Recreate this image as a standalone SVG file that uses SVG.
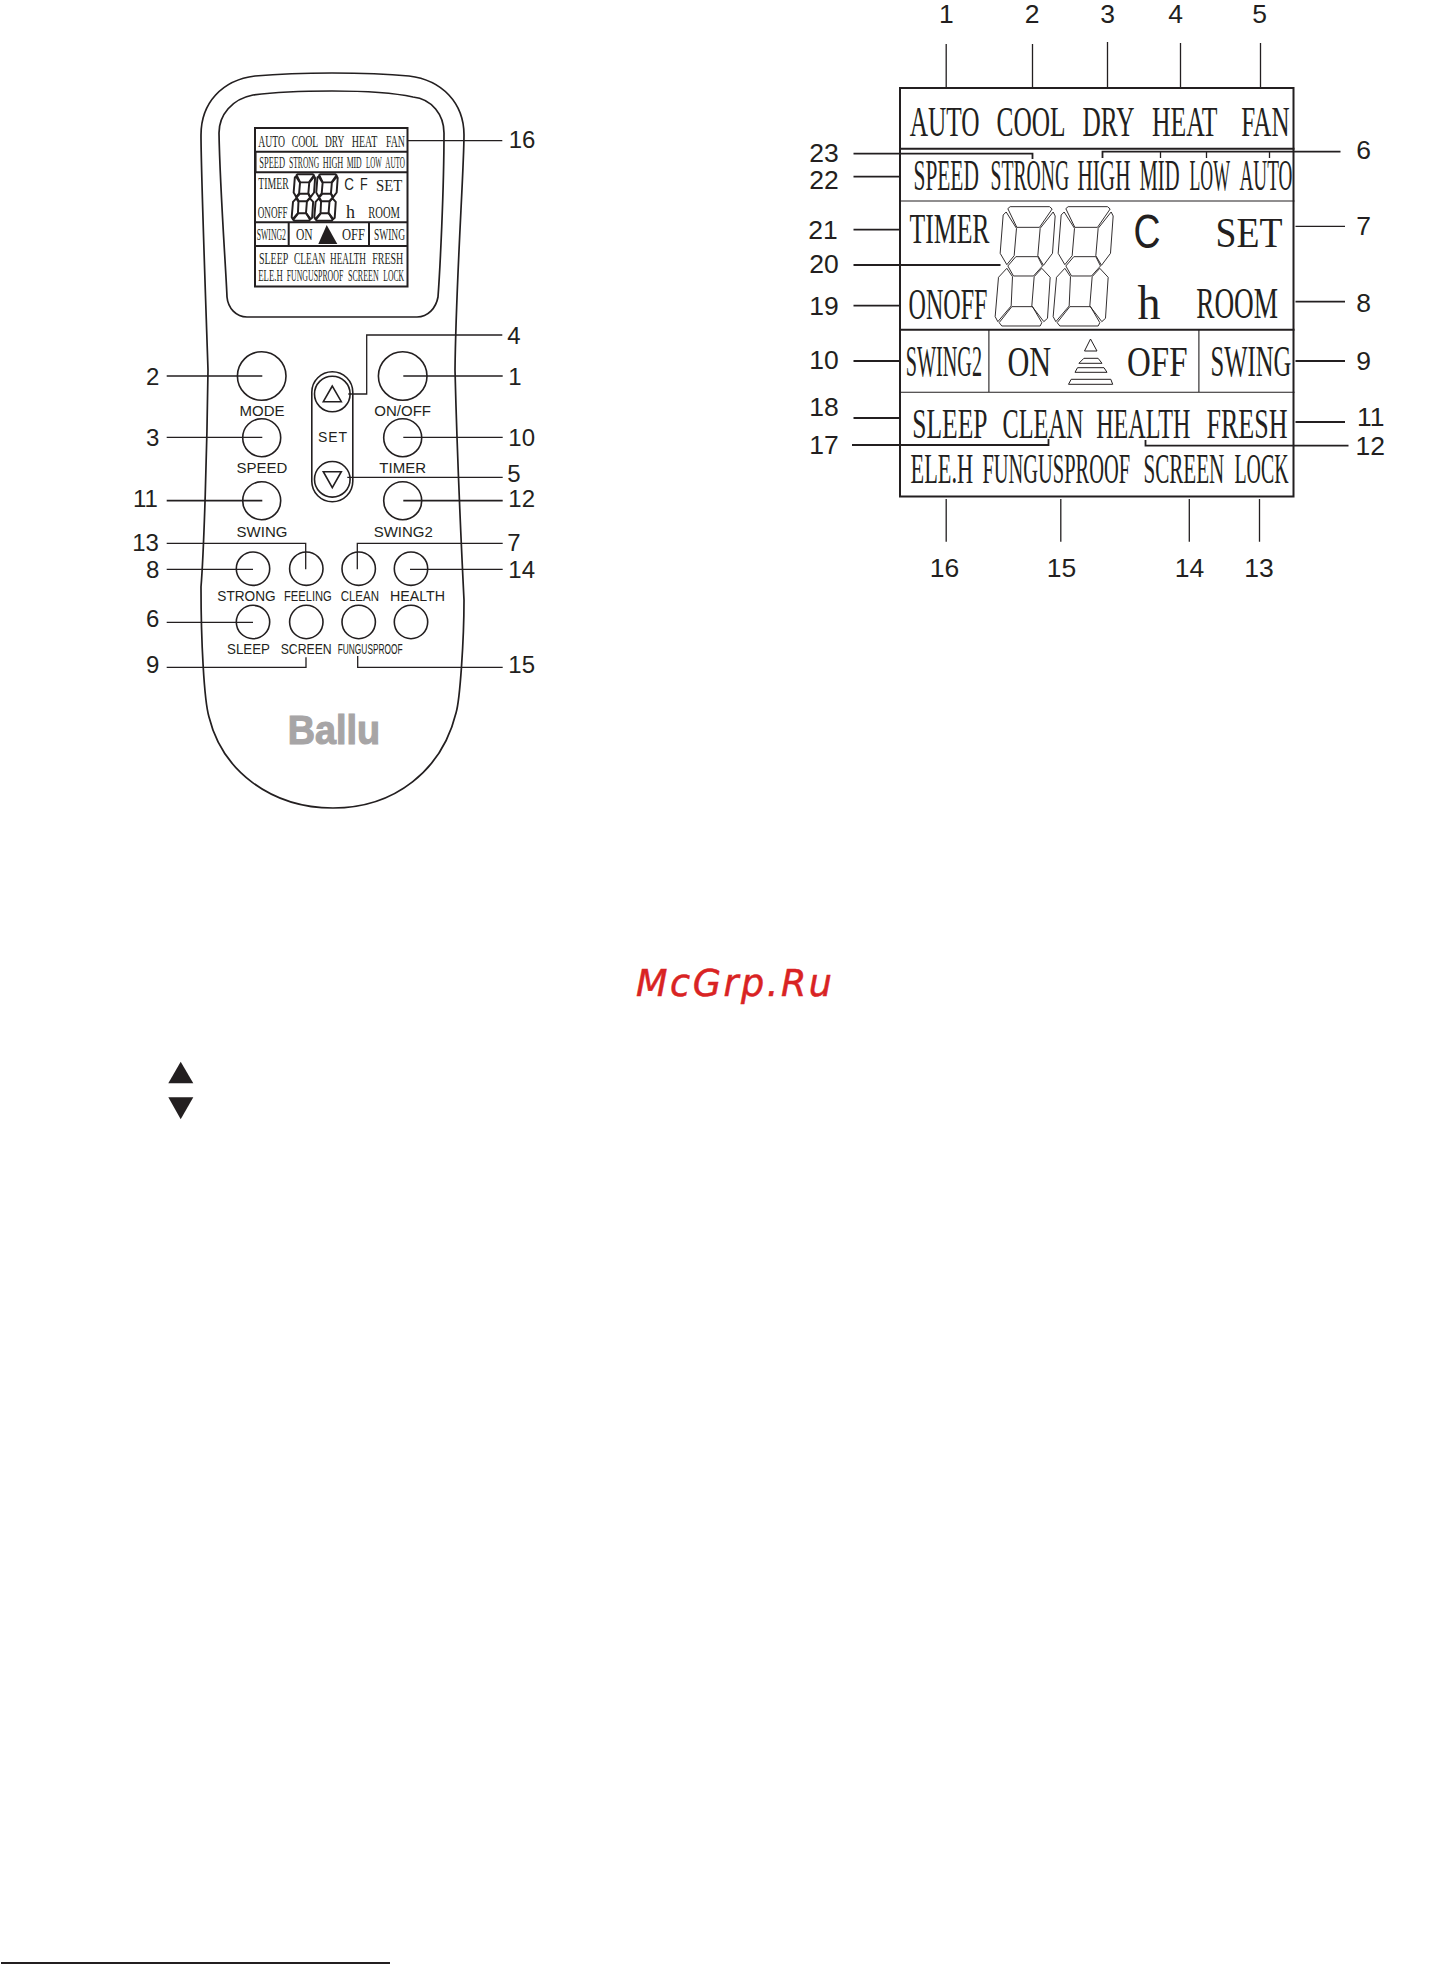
<svg xmlns="http://www.w3.org/2000/svg" xmlns:xlink="http://www.w3.org/1999/xlink" width="1456" height="1964" viewBox="0 0 1456 1964">
<style>
text{fill:#231f20}
.n,.m,.s{font-family:"Liberation Sans",Arial,sans-serif}
.n{font-size:24px;text-anchor:middle}
.m{font-size:26.5px;text-anchor:middle}
.s{font-size:15px}
.c{text-anchor:middle}
.t,.u{font-family:"Liberation Serif","Times New Roman",serif}
.t{font-size:42px}
.u{font-size:16px}
.l{fill:none;stroke:#231f20;stroke-width:1.3}
.b{fill:none;stroke:#231f20;stroke-width:1.9}
.f{fill:none;stroke:#231f20;stroke-width:1.7}
.k{fill:#fff;stroke:#231f20;stroke-width:1.6}
.d{fill:#231f20}
.seg polygon{fill:none;stroke:#231f20;stroke-linejoin:round}
</style>
<defs>
<g id="digit" class="seg">
<polygon points="88,56 95,50 213,50 221,57 183,112 115,112"/>
<polygon points="83,66 74,75 65,190 85,224 107,197 114,115"/>
<polygon points="224,66 230,78 222,190 195,226 178,197 185,115"/>
<polygon points="88,228 112,200 178,200 192,228 165,258 105,258"/>
<polygon points="85,235 60,262 50,380 58,395 98,348 102,260"/>
<polygon points="190,235 215,262 207,385 196,395 160,348 167,260"/>
<polygon points="62,398 100,350 162,350 190,398 185,408 70,408"/>
</g>
</defs>
<rect width="1456" height="1964" fill="#fff"/>

<g id="remote">
<path class="f" d="M332,73C300,73 278,74 255,76C222,80 201,103 201,135C201,170 205,280 208,370C207,450 204,550 201,587C201,640 204,700 209,717C222,770 270,808 333,808C395,808 442,770 456,713C460,700 464,640 464,600C462,560 457,450 455,370C456,280 464,170 464,135C464,103 442,80 409,76C388,74 360,73 332,73Z"/>
<path class="f" d="M332,91C300,91 275,92 253,95C232,99 219,115 219,133C220,190 226,270 227,297C228,308 236,317 247,317L417,317C428,317 436,308 438,297C440,270 444,190 444,133C444,115 432,99 413,97C390,92 360,91 332,91Z"/>
</g>

<g id="remote-lcd">
<rect x="255" y="128" width="152.5" height="158.5" fill="#fff" stroke="#231f20" stroke-width="2"/>
<path class="b" style="stroke-width:2" d="M254,151.7H408M254,172.3H408M254,222.3H408M254,246H408M288.7,222V246M369,222V246"/>
<path class="b" d="M255.6,152V172"/>
<g class="u">
<text x="258.3" y="147.3" textLength="26.7" lengthAdjust="spacingAndGlyphs">AUTO</text>
<text x="291.7" y="147.3" textLength="26.6" lengthAdjust="spacingAndGlyphs">COOL</text>
<text x="325" y="147.3" textLength="19.3" lengthAdjust="spacingAndGlyphs">DRY</text>
<text x="351.7" y="147.3" textLength="25.6" lengthAdjust="spacingAndGlyphs">HEAT</text>
<text x="386" y="147.3" textLength="19" lengthAdjust="spacingAndGlyphs">FAN</text>
<text x="259.3" y="168" textLength="25.7" lengthAdjust="spacingAndGlyphs">SPEED</text>
<text x="289" y="168" textLength="30.3" lengthAdjust="spacingAndGlyphs">STRONG</text>
<text x="322.7" y="168" textLength="20.6" lengthAdjust="spacingAndGlyphs">HIGH</text>
<text x="346.7" y="168" textLength="15" lengthAdjust="spacingAndGlyphs">MID</text>
<text x="366" y="168" textLength="15.7" lengthAdjust="spacingAndGlyphs">LOW</text>
<text x="385.3" y="168" textLength="19.7" lengthAdjust="spacingAndGlyphs">AUTO</text>
<text x="258.3" y="188.7" textLength="30.4" lengthAdjust="spacingAndGlyphs">TIMER</text>
<text x="376" y="190.7" textLength="26.3" lengthAdjust="spacingAndGlyphs">SET</text>
<text x="257.7" y="218.3" textLength="30" lengthAdjust="spacingAndGlyphs">ONOFF</text>
<text x="346" y="217.7" style="font-size:18px">h</text>
<text x="368.3" y="217.7" textLength="31.7" lengthAdjust="spacingAndGlyphs">ROOM</text>
<text x="256.7" y="240" textLength="29.3" lengthAdjust="spacingAndGlyphs">SWING2</text>
<text x="296" y="240" textLength="16.7" lengthAdjust="spacingAndGlyphs">ON</text>
<text x="342" y="240" textLength="23" lengthAdjust="spacingAndGlyphs">OFF</text>
<text x="374" y="240" textLength="31" lengthAdjust="spacingAndGlyphs">SWING</text>
<text x="259" y="264" textLength="29.3" lengthAdjust="spacingAndGlyphs">SLEEP</text>
<text x="294" y="264" textLength="31.3" lengthAdjust="spacingAndGlyphs">CLEAN</text>
<text x="330" y="264" textLength="36" lengthAdjust="spacingAndGlyphs">HEALTH</text>
<text x="372.3" y="264" textLength="31" lengthAdjust="spacingAndGlyphs">FRESH</text>
<text x="258.3" y="281.3" textLength="24.4" lengthAdjust="spacingAndGlyphs">ELE.H</text>
<text x="286.7" y="281.3" textLength="56.6" lengthAdjust="spacingAndGlyphs">FUNGUSPROOF</text>
<text x="348" y="281.3" textLength="30.7" lengthAdjust="spacingAndGlyphs">SCREEN</text>
<text x="383.3" y="281.3" textLength="20.7" lengthAdjust="spacingAndGlyphs">LOCK</text>
</g>
<text class="s" x="344.3" y="190" style="font-size:16.5px" textLength="9.7" lengthAdjust="spacingAndGlyphs">C</text>
<text class="s" x="360" y="190" style="font-size:16.5px" textLength="7.7" lengthAdjust="spacingAndGlyphs">F</text>
<use xlink:href="#digit" href="#digit" transform="translate(291.7,174.3) scale(.13) translate(-50,-50)" stroke-width="15"/>
<use xlink:href="#digit" href="#digit" transform="translate(314.3,174.3) scale(.13) translate(-50,-50)" stroke-width="15"/>
<polygon class="d" points="326.7,225 318.3,244 337.3,244"/>
</g>

<g id="buttons">
<circle class="k" cx="261.7" cy="376" r="24.3"/>
<circle class="k" cx="402.7" cy="376" r="24.3"/>
<circle class="k" cx="261.7" cy="437.7" r="19"/>
<circle class="k" cx="402.7" cy="437.7" r="19"/>
<circle class="k" cx="261.7" cy="500.7" r="19"/>
<circle class="k" cx="402.7" cy="500.7" r="19"/>
<circle class="k" cx="253" cy="568.7" r="16.7"/>
<circle class="k" cx="306.3" cy="568.7" r="16.7"/>
<circle class="k" cx="358.7" cy="568.7" r="16.7"/>
<circle class="k" cx="411" cy="568.7" r="16.7"/>
<circle class="k" cx="253" cy="622" r="16.7"/>
<circle class="k" cx="306.3" cy="622" r="16.7"/>
<circle class="k" cx="358.7" cy="622" r="16.7"/>
<circle class="k" cx="411" cy="622" r="16.7"/>
<rect class="k" x="311.8" y="371.7" width="41" height="130" rx="20.5"/>
<circle class="k" cx="332.3" cy="394" r="17.8"/>
<circle class="k" cx="332.3" cy="479.3" r="17.8"/>
<polygon class="k" points="332.3,386 323.3,401.7 341.3,401.7"/>
<polygon class="k" points="323.3,471.7 341.3,471.7 332.3,487.7"/>
<text class="s" x="318" y="442.3" style="font-size:14px" textLength="29">SET</text>
<text class="s c" x="262" y="416">MODE</text>
<text class="s c" x="402.7" y="416">ON/OFF</text>
<text class="s c" x="262" y="473.3">SPEED</text>
<text class="s c" x="402.7" y="473.3">TIMER</text>
<text class="s c" x="262" y="537.3">SWING</text>
<text class="s c" x="403.3" y="537.3">SWING2</text>
<text class="s" x="217.3" y="601" textLength="58.4" lengthAdjust="spacingAndGlyphs">STRONG</text>
<text class="s" x="284" y="601" textLength="47.7" lengthAdjust="spacingAndGlyphs">FEELING</text>
<text class="s" x="340.7" y="601" textLength="38.3" lengthAdjust="spacingAndGlyphs">CLEAN</text>
<text class="s" x="390" y="601" textLength="55" lengthAdjust="spacingAndGlyphs">HEALTH</text>
<text class="s" x="227" y="654.3" textLength="43" lengthAdjust="spacingAndGlyphs">SLEEP</text>
<text class="s" x="280.7" y="654.3" textLength="51" lengthAdjust="spacingAndGlyphs">SCREEN</text>
<text class="s" x="337.7" y="654.3" textLength="65" lengthAdjust="spacingAndGlyphs">FUNGUSPROOF</text>
</g>

<g id="logo">
<text x="287.7" y="744.3" font-family="'Liberation Sans',Arial,sans-serif" font-weight="700" font-size="40" textLength="92.3" lengthAdjust="spacingAndGlyphs" stroke="#a7a5a6" stroke-width="1.2" style="fill:#a7a5a6">Ballu</text>
</g>

<g id="lcd-large" transform="translate(-1.5,0)">
<rect x="901.5" y="88" width="393.5" height="408.5" fill="none" stroke="#231f20" stroke-width="2"/>
<path class="b" style="stroke-width:2" d="M901,148.7H1296M901,329.7H1296"/>
<path class="l" style="stroke-width:1.1" d="M901,201H1296M901,392.3H1296M990.4,330V392M1200.4,330V392"/>
<g class="t">
<text x="911.2" y="136" textLength="69.8" lengthAdjust="spacingAndGlyphs">AUTO</text>
<text x="998" y="136" textLength="69" lengthAdjust="spacingAndGlyphs">COOL</text>
<text x="1084" y="136" textLength="52" lengthAdjust="spacingAndGlyphs">DRY</text>
<text x="1153.5" y="136" textLength="65.5" lengthAdjust="spacingAndGlyphs">HEAT</text>
<text x="1242.7" y="136" textLength="48.3" lengthAdjust="spacingAndGlyphs">FAN</text>
<text x="915" y="190" style="font-size:44px" textLength="65.4" lengthAdjust="spacingAndGlyphs">SPEED</text>
<text x="992" y="190" style="font-size:44px" textLength="78.8" lengthAdjust="spacingAndGlyphs">STRONG</text>
<text x="1079" y="190" style="font-size:44px" textLength="53" lengthAdjust="spacingAndGlyphs">HIGH</text>
<text x="1141" y="190" style="font-size:44px" textLength="40" lengthAdjust="spacingAndGlyphs">MID</text>
<text x="1191" y="190" style="font-size:44px" textLength="40.5" lengthAdjust="spacingAndGlyphs">LOW</text>
<text x="1241" y="190" style="font-size:44px" textLength="53" lengthAdjust="spacingAndGlyphs">AUTO</text>
<text x="911" y="242.7" textLength="80" lengthAdjust="spacingAndGlyphs">TIMER</text>
<text x="1217" y="246.7" style="font-size:43px" textLength="67" lengthAdjust="spacingAndGlyphs">SET</text>
<text x="910" y="319" style="font-size:44px" textLength="79" lengthAdjust="spacingAndGlyphs">ONOFF</text>
<text x="1139" y="319" style="font-size:48px" textLength="23" lengthAdjust="spacingAndGlyphs">h</text>
<text x="1197.7" y="318" style="font-size:44px" textLength="81.9" lengthAdjust="spacingAndGlyphs">ROOM</text>
<text x="907.3" y="376.3" style="font-size:44px" textLength="76.2" lengthAdjust="spacingAndGlyphs">SWING2</text>
<text x="1009" y="376" textLength="43.7" lengthAdjust="spacingAndGlyphs">ON</text>
<text x="1128.5" y="376" textLength="60.5" lengthAdjust="spacingAndGlyphs">OFF</text>
<text x="1212" y="376.3" style="font-size:44px" textLength="80.7" lengthAdjust="spacingAndGlyphs">SWING</text>
<text x="913.8" y="437.7" textLength="75.2" lengthAdjust="spacingAndGlyphs">SLEEP</text>
<text x="1004" y="437.7" textLength="81" lengthAdjust="spacingAndGlyphs">CLEAN</text>
<text x="1097.7" y="437.7" textLength="94.3" lengthAdjust="spacingAndGlyphs">HEALTH</text>
<text x="1208" y="437.7" textLength="81" lengthAdjust="spacingAndGlyphs">FRESH</text>
<text x="912" y="483.3" textLength="62.6" lengthAdjust="spacingAndGlyphs">ELE.H</text>
<text x="984" y="483.3" textLength="147.5" lengthAdjust="spacingAndGlyphs">FUNGUSPROOF</text>
<text x="1145" y="483.3" textLength="80.8" lengthAdjust="spacingAndGlyphs">SCREEN</text>
<text x="1236" y="483.3" textLength="54" lengthAdjust="spacingAndGlyphs">LOCK</text>
</g>
<text class="s" x="1135" y="247.5" style="font-size:48px" textLength="27" lengthAdjust="spacingAndGlyphs">C</text>
<use xlink:href="#digit" href="#digit" transform="translate(980,190) scale(.3333)" stroke-width="2.8"/>
<use xlink:href="#digit" href="#digit" transform="translate(1038,190) scale(.3333)" stroke-width="2.8"/>
<g class="l" style="stroke-width:1">
<polygon points="1092,339 1086,351 1098.5,351"/>
<polygon points="1085.4,358.3 1099.6,358.3 1103.5,363.3 1080.4,363.3"/>
<polygon points="1079,367.7 1105.5,367.7 1108.5,372.3 1076.5,372.3"/>
<polygon points="1072.7,379.3 1112.3,379.3 1114.2,384.3 1070,384.3"/>
</g>
</g>

<g id="connectors" class="l">
<path d="M407.7,140.7H502.3"/>
<path d="M502.3,335H366.7V394H348.3"/>
<path d="M166.7,376H262.3M403.3,376H502.7M166.7,437.3H262.3M403.3,437.3H502.7M347.3,477.3H502.7"/>
<path style="stroke-width:1.8" d="M166.7,500.7H262.3M403.3,500.7H502.7"/>
<path d="M166.7,543.3H305.7V569.3M357.3,569.3V543.3H502.7M166.7,569.3H253M410,569.3H502.7M166.7,622.3H253M166.7,667.3H306V657.3M357.7,656V667.3H502.7"/>
<g transform="translate(-1.5,0)">
<path d="M947.7,44V87M1034,44V87M1109,42V87M1182,43V87M1262,43V87"/>
<path style="stroke-width:1.8" d="M1342,151.7H1104V158"/>
<path d="M1162,152V158M1208,152V158M1271,152V158"/>
<path style="stroke-width:1.8" d="M855,153.7H1034V159M855,176.7H901M855,229.7H901M855,265H1002M855,305.7H901"/>
<path d="M1297,226.3H1346.5"/>
<path style="stroke-width:1.8" d="M1297,301.7H1346.5M855,361H901M1297,361H1346.5M855,418H901M853.5,445H1050V439M1297,422H1346.5M1147,440V445.7H1350"/>
<path d="M947.7,499V541.7M1062.3,499V541.7M1190.8,499V541.7M1261,499V541.7"/>
</g>
</g>

<g id="labels-remote">
<text class="n" x="522" y="148.3">16</text>
<text class="n" x="514" y="344.3">4</text>
<text class="n" x="152.7" y="385">2</text>
<text class="n" x="515" y="385">1</text>
<text class="n" x="152.7" y="446">3</text>
<text class="n" x="521.7" y="446">10</text>
<text class="n" x="514" y="482">5</text>
<text class="n" x="145.5" y="506.7">11</text>
<text class="n" x="521.7" y="506.7">12</text>
<text class="n" x="145.5" y="550.7">13</text>
<text class="n" x="514" y="550.7">7</text>
<text class="n" x="152.7" y="578.3">8</text>
<text class="n" x="521.7" y="578.3">14</text>
<text class="n" x="152.7" y="627.3">6</text>
<text class="n" x="152.7" y="673.3">9</text>
<text class="n" x="521.7" y="673.3">15</text>
</g>

<g id="labels-lcd">
<text class="m" x="946.4" y="23">1</text>
<text class="m" x="1032.2" y="23">2</text>
<text class="m" x="1107.7" y="23">3</text>
<text class="m" x="1175.5" y="23">4</text>
<text class="m" x="1259.5" y="23">5</text>
<text class="m" x="1363.5" y="159">6</text>
<text class="m" x="824" y="162">23</text>
<text class="m" x="824" y="189">22</text>
<text class="m" x="823" y="239">21</text>
<text class="m" x="824" y="273">20</text>
<text class="m" x="824" y="315">19</text>
<text class="m" x="1363.5" y="234.5">7</text>
<text class="m" x="1363.5" y="311.5">8</text>
<text class="m" x="824" y="369">10</text>
<text class="m" x="1363.5" y="370">9</text>
<text class="m" x="824" y="416">18</text>
<text class="m" x="824" y="454">17</text>
<text class="m" x="1370.7" y="426">11</text>
<text class="m" x="1370.3" y="455">12</text>
<text class="m" x="944.5" y="577">16</text>
<text class="m" x="1061.5" y="577">15</text>
<text class="m" x="1189.5" y="577">14</text>
<text class="m" x="1259" y="577">13</text>
</g>

<g id="watermark">
<text x="636" y="996" font-family="'DejaVu Sans',sans-serif" font-style="italic" font-size="36.5" textLength="196" stroke="#d92323" stroke-width=".5" style="fill:#d92323">McGrp.Ru</text>
</g>
<g id="arrows">
<polygon class="d" points="180.7,1061.7 168.3,1083.3 193.3,1083.3"/>
<polygon class="d" points="168.3,1097.3 193.3,1097.3 180.7,1119.3"/>
</g>
<rect id="footnote-rule" x="1" y="1962" width="389" height="2" fill="#231f20"/>
</svg>
